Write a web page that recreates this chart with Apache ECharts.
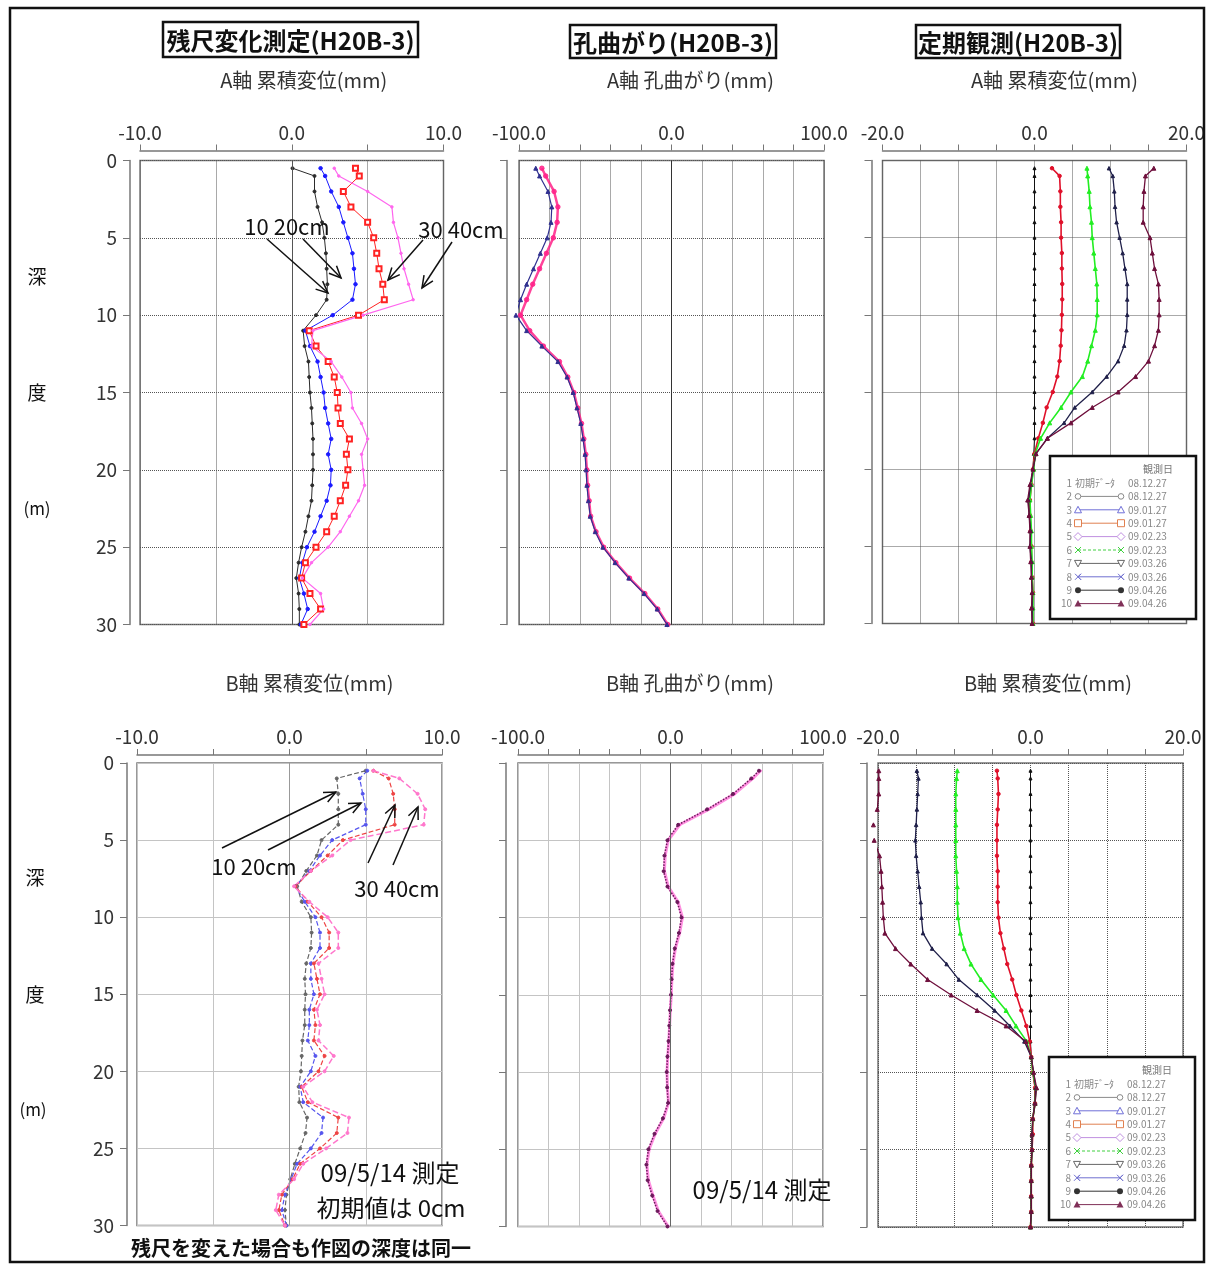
<!DOCTYPE html>
<html><head><meta charset="utf-8">
<script src="https://cdn.jsdelivr.net/npm/echarts@6/dist/echarts.min.js"></script>
<style>html,body{margin:0;padding:0;background:#fff}#c{width:1208px;height:1265px}</style>
</head><body><div id="c"></div>
<script>
// ---------- depth (m) ----------
const depths = [0.5,1,2,3,4,5,6,7,8,9,10,11,12,13,14,15,16,17,18,19,20,21,22,23,24,25,26,27,28,29,30];

// ---------- 残尺変化測定 A軸 (mm) ----------
const zanA10 = [0.05,1.5,1.5,1.7,2.0,2.15,2.25,2.3,2.35,2.3,1.6,0.75,0.85,1.1,1.15,1.2,1.3,1.35,1.4,1.4,1.4,1.35,1.3,1.1,0.9,0.65,0.45,0.3,0.45,0.5,0.5];
const zanA20 = [1.9,2.2,2.6,3.1,3.4,3.7,4.0,4.1,4.2,4.0,2.7,0.9,1.2,1.7,1.9,2.1,2.2,2.4,2.6,2.4,2.6,2.55,2.3,1.9,1.5,1.0,0.7,0.5,0.8,1.05,0.6];
const zanA30 = [4.2,4.45,3.4,3.9,5.0,5.4,5.6,5.75,6.0,6.1,4.4,1.15,1.6,2.4,2.8,3.0,3.05,3.2,3.8,3.6,3.7,3.55,3.2,2.8,2.3,1.6,0.9,0.65,1.2,1.9,0.8];
const zanA40 = [2.8,3.1,5.0,6.6,6.7,7.0,7.2,7.4,7.7,8.0,4.7,1.4,1.3,2.6,3.3,3.9,4.0,4.6,5.0,4.6,4.7,4.8,4.4,3.8,3.2,2.4,1.3,0.7,1.9,2.1,1.2];

// ---------- 残尺変化測定 B軸 (mm) ----------
const zanB10 = [5.0,3.1,3.2,3.2,3.2,2.1,1.8,1.1,0.5,0.8,1.4,1.45,1.4,1.1,1.0,1.05,1.0,1.0,0.85,0.8,0.75,0.6,0.65,1.15,1.05,0.7,0.35,0.05,-0.2,-0.3,-0.2];
const zanB20 = [5.1,4.6,4.8,5.0,5.0,2.8,2.0,1.3,0.4,1.0,1.7,2.0,2.0,1.4,1.4,1.6,1.3,1.3,1.2,1.7,1.4,0.7,0.9,2.2,2.1,1.4,0.5,0.1,-0.3,-0.5,-0.2];
const zanB30 = [5.5,6.5,6.8,6.9,6.9,3.5,2.5,1.4,0.4,1.2,2.1,2.6,2.6,1.6,1.8,2.0,1.6,1.7,1.6,2.3,1.9,0.8,1.2,3.2,3.1,2.0,0.7,0.2,-0.5,-0.7,-0.3];
const zanB40 = [5.5,7.2,8.4,8.9,8.8,4.0,2.8,1.4,0.3,1.3,2.5,3.2,3.2,1.9,2.1,2.3,1.8,2.0,1.9,2.9,2.3,0.9,1.5,3.9,3.8,2.4,0.9,0.3,-0.7,-0.9,-0.3];

// ---------- 孔曲がり (mm) ----------
const bendA1 = [-89,-86.5,-81,-78.5,-79,-81.5,-86,-90.5,-95,-99,-102,-95,-85,-74.5,-68.5,-64.5,-62,-59.5,-58,-56.7,-56,-55.5,-54.5,-53.3,-50,-45,-37,-28,-18,-9.4,-3];
const bendA2 = [-85,-82.5,-77,-74.5,-75,-77.5,-82,-86.5,-91,-95,-99,-93,-84,-73.5,-68,-64,-61.5,-59,-57.5,-56.2,-55.5,-55,-54,-53,-49.5,-44.5,-36.5,-27.5,-17.5,-9,-2.5];
const bendB1 = [58,53,41,24,5,-2,-4,-4.5,-2,4.5,7.2,5.5,2.8,1.3,0.7,0.3,-0.3,-0.8,-1.3,-2.0,-2.5,-2.2,-1.6,-5,-10.5,-14.5,-15.8,-15,-12,-8.5,-2];
const bendB2 = [59,54,42,25,6,-1.5,-3.5,-4,-1.5,5,7.8,6,3.2,1.6,0.9,0.5,-0.1,-0.6,-1.1,-1.8,-2.3,-2.0,-1.3,-4.5,-10,-14,-15.5,-14.5,-11.5,-8,-1.5];

// ---------- 定期観測 A軸 (mm) ----------
const obsA1 = [0,0,0,0,0,0,0,0,0,0,0,0,0,0,0,0,0,0,0,-0.1,-0.2,-0.5,-0.7,-0.6,-0.5,-0.5,-0.4,-0.3,-0.3,-0.3,-0.3];
const obsA2 = [2.3,3.3,3.4,3.4,3.5,3.5,3.6,3.6,3.65,3.65,3.6,3.55,3.45,3.3,3.0,2.4,1.6,1.1,0.5,0.0,-0.2,-0.4,-0.6,-0.6,-0.5,-0.4,-0.4,-0.3,-0.2,-0.3,-0.2];
const obsA3 = [6.9,7.0,7.2,7.3,7.5,7.6,7.8,8.0,8.2,8.25,8.25,8.0,7.5,7.0,6.3,4.8,3.5,2.0,0.8,0.1,-0.1,-0.4,-0.6,-0.5,-0.4,-0.4,-0.3,-0.3,-0.2,-0.2,-0.2];
const obsA4 = [9.8,10.3,10.5,10.6,10.8,11.2,11.6,11.9,12.2,12.2,12.2,12.1,11.8,11.0,9.5,7.6,5.3,3.9,1.7,0.2,-0.2,-0.5,-0.8,-0.7,-0.5,-0.6,-0.4,-0.4,-0.3,-0.3,-0.3];
const obsA5 = [15.7,14.6,14.4,14.3,14.3,15.2,15.5,15.8,16.3,16.4,16.4,16.3,15.8,15.0,13.3,11.0,7.6,4.8,1.7,0.2,-0.2,-0.6,-0.9,-0.7,-0.6,-0.6,-0.5,-0.4,-0.3,-0.4,-0.3];

// ---------- 定期観測 B軸 (mm) ----------
const obsB1 = [0,0,0,0,0,0,0,0,0,0,0,0,0,0,0,0,0,0,0,0.1,0.3,0.6,0.5,0.3,0.2,0.2,0.1,0.1,0.0,0.1,0.0];
const obsB2 = [-4.4,-4.3,-4.2,-4.3,-4.4,-4.4,-4.4,-4.3,-4.3,-4.3,-4.2,-3.95,-3.5,-3.05,-2.4,-1.85,-1.2,-0.55,-0.1,0.1,0.3,0.6,0.6,0.3,0.3,0.2,0.1,0.1,0.1,0.1,0.0];
const obsB3 = [-9.6,-9.7,-9.8,-9.8,-9.8,-9.8,-9.8,-9.7,-9.6,-9.6,-9.5,-9.2,-8.7,-7.8,-6.5,-4.9,-3.2,-1.9,-0.5,0.1,0.3,0.7,0.6,0.3,0.2,0.2,0.1,0.1,0.1,0.1,0.0];
const obsB4 = [-14.9,-14.7,-14.8,-14.9,-15.0,-15.1,-15.0,-14.8,-14.6,-14.4,-14.3,-14.1,-12.9,-11.0,-9.4,-7.0,-4.7,-2.7,-0.8,0.1,0.4,0.7,0.6,0.3,0.2,0.2,0.1,0.1,0.1,0.1,0.0];
const obsB5 = [-19.9,-19.9,-19.9,-20.1,-20.6,-20.5,-19.8,-19.6,-19.5,-19.4,-19.3,-19.1,-17.7,-15.7,-13.5,-10.4,-7.0,-3.2,-0.6,0.1,0.4,0.8,0.6,0.3,0.2,0.2,0.1,0.1,0.1,0.1,0.0];

// ---------- axis texts ----------
const panelTitles = ['残尺変化測定(H20B-3)','孔曲がり(H20B-3)','定期観測(H20B-3)'];
const axisNames = ['A軸 累積変位(mm)','A軸 孔曲がり(mm)','A軸 累積変位(mm)','B軸 累積変位(mm)','B軸 孔曲がり(mm)','B軸 累積変位(mm)'];
const xRanges = [[-10,10,5],[-100,100,20],[-20,20,5],[-10,10,5],[-100,100,20],[-20,20,5]];
const depthTicks = [0,5,10,15,20,25,30];
const legendNos = ['1','2','3','4','5','6','7','8','9','10'];
const legendMarks = ['','o','tri','sq','dia','x','vtri','x','dot','ftri'];
const legendColors = ['#888','#8a8a8a','#7070d8','#e08050','#c090e0','#40d040','#666','#7070d0','#333','#803058'];
const legendDates = ['08.12.27','08.12.27','09.01.27','09.01.27','09.02.23','09.02.23','09.03.26','09.03.26','09.04.26','09.04.26'];

const FF = "'Noto Sans CJK JP','Noto Sans',sans-serif";

const grids = [
  {left:140, top:160.5, width:303.5, height:464},
  {left:519, top:160.5, width:305, height:464},
  {left:882.5, top:160.5, width:304, height:463},
  {left:137, top:763, width:305, height:462.5},
  {left:518, top:763, width:305, height:463.5},
  {left:878, top:763, width:305, height:464}
].map(g => Object.assign(g, {show:true, borderColor:'#777', borderWidth:1.5}));

const namePad = [24,38,40,40,39,35];
const splitStyles = [
  {type:'dotted', color:'#555'}, {type:'dotted', color:'#555'}, {type:'dotted', color:'#555'},
  {type:'solid', color:'#c4c4c4'}, {type:'solid', color:'#c4c4c4'}, {type:'dotted', color:'#555'}
];
const yOffsets = [10,12,11,10,12,11];

const xAxes = xRanges.map((r,i) => ({
  gridIndex:i, type:'value', position:'top', min:r[0], max:r[1], interval:r[2],
  offset: i<3 ? 10 : 8,
  name: axisNames[i], nameLocation:'middle', nameGap: i<3 ? 60 : 62,
  nameTextStyle:{fontSize:20, color:'#333', fontFamily:FF, padding:[0,0,0,namePad[i]]},
  axisLine:{show:true, onZero:false, lineStyle:{color:'#777', width:1.5}},
  axisTick:{show:true, inside:false, length:6, lineStyle:{color:'#777'}},
  axisLabel:{show:true, margin: i<3 ? 8 : 9, fontSize:19, color:'#333', fontFamily:FF,
    showMinLabel:true, showMaxLabel:true,
    formatter: v => (v===r[0]||v===0||v===r[1]) ? v.toFixed(1) : ''},
  splitLine:{show:true, lineStyle:splitStyles[i]}
}));

const yAxes = grids.map((g,i) => ({
  gridIndex:i, type:'value', inverse:true, min:0, max:30, interval:5,
  position:'left', offset:yOffsets[i],
  axisLine:{show:true, onZero:false, lineStyle:{color:'#777', width:1.5}},
  axisTick:{show:true, inside:false, length:7, lineStyle:{color:'#777'}},
  axisLabel:{show: (i===0||i===3), margin:13, fontSize:19, color:'#333', fontFamily:FF,
    formatter: v => depthTicks.includes(v) ? String(v) : ''},
  splitLine:{show:true, lineStyle:splitStyles[i]}
}));

function mk(name, gi, vals, color, o) {
  o = o || {};
  return {
    name, type:'line', xAxisIndex:gi, yAxisIndex:gi,
    data: depths.map((d,k) => [vals[k], d]),
    symbol: o.symbol || 'circle', symbolSize: o.size || 3, showSymbol:true,
    clip:false, silent:true, z:o.z || 3,
    lineStyle:{color, width:o.width || 1, type:o.type || 'solid', opacity:o.op==null?1:o.op},
    itemStyle:{color:o.fill || color, borderColor:color, borderWidth:1, opacity:o.op==null?1:o.op},
    markLine: o.zero ? {silent:true, symbol:'none', animation:false, label:{show:false},
      lineStyle:{color:o.zero, type:'solid', width:1}, data:[{xAxis:0}]} : undefined
  };
}

const series = [
  mk('10cm',0,zanA10,'#2b2b2b',{zero:'#555'}),
  mk('20cm',0,zanA20,'#1a1aff',{size:3.5}),
  mk('30cm',0,zanA30,'#ff2222',{symbol:'emptyRect',size:5}),
  mk('40cm',0,zanA40,'#ff66ee',{size:2.5,width:1.2}),

  mk('孔曲がりA-2',1,bendA2,'#ff2288',{size:4.5,width:2.5,op:0.85,zero:'#333'}),
  mk('孔曲がりA-1',1,bendA1,'#303090',{symbol:'triangle',size:4,width:1.2}),

  mk('1',2,obsA1,'#111',{symbol:'triangle',size:3}),
  mk('2',2,obsA2,'#e0102a',{size:3.5,width:1.6}),
  mk('3',2,obsA3,'#22ee22',{symbol:'triangle',size:4,width:1.6}),
  mk('4',2,obsA4,'#20204a',{symbol:'triangle',size:3.5,width:1.3}),
  mk('5',2,obsA5,'#6e0f3c',{symbol:'triangle',size:4,width:1.3}),

  mk('10cm',3,zanB10,'#666',{type:'dashed',width:1.2,zero:'#999'}),
  mk('20cm',3,zanB20,'#5555ee',{type:'dashed',width:1.2,size:3}),
  mk('30cm',3,zanB30,'#ee4444',{type:'dashed',width:1.2,size:3}),
  mk('40cm',3,zanB40,'#ff77cc',{type:'dashed',width:1.5,size:3}),

  mk('孔曲がりB-2',4,bendB2,'#ff44cc',{width:3,op:0.6,size:2,zero:'#666'}),
  mk('孔曲がりB-1',4,bendB1,'#6a1a5a',{type:'dotted',width:1.5,size:3}),

  mk('1',5,obsB1,'#111',{symbol:'triangle',size:3}),
  mk('2',5,obsB2,'#e0102a',{size:3.5,width:1.6}),
  mk('3',5,obsB3,'#22ee22',{symbol:'triangle',size:4,width:1.6}),
  mk('4',5,obsB4,'#20204a',{symbol:'triangle',size:3.5,width:1.3}),
  mk('5',5,obsB5,'#6e0f3c',{symbol:'triangle',size:4,width:1.3})
];

// ---------- graphics ----------
function txt(text,x,y,size,o){
  o = o || {};
  return {type:'text', x, y, z:50, silent:true, style:{text, fontSize:size, fontFamily:FF,
    fontWeight:o.weight||'normal', fill:o.color||'#111',
    textAlign:o.align||'center', align:o.align||'center',
    textVerticalAlign:'middle', verticalAlign:'middle'}};
}
function arrow(x1,y1,x2,y2){
  const a = Math.atan2(y2-y1,x2-x1), L = 13, w = 0.42;
  const p1 = [x2-L*Math.cos(a-w), y2-L*Math.sin(a-w)];
  const p2 = [x2-L*Math.cos(a+w), y2-L*Math.sin(a+w)];
  return [
    {type:'line', z:50, silent:true, shape:{x1,y1,x2,y2}, style:{stroke:'#111', lineWidth:1.5}},
    {type:'polyline', z:50, silent:true, shape:{points:[p1,[x2,y2],p2]}, style:{stroke:'#111', lineWidth:1.5, fill:null}}
  ];
}
function sym(kind,x,y,c){
  const st = {stroke:c, fill:'#fff', lineWidth:1};
  const base = {z:61, silent:true};
  switch(kind){
    case 'o': return Object.assign({type:'circle', shape:{cx:x,cy:y,r:2.8}, style:st}, base);
    case 'tri': return Object.assign({type:'polygon', shape:{points:[[x,y-3.5],[x+3.5,y+3],[x-3.5,y+3]]}, style:st}, base);
    case 'sq': return Object.assign({type:'rect', shape:{x:x-3.5,y:y-3.5,width:7,height:7}, style:st}, base);
    case 'dia': return Object.assign({type:'polygon', shape:{points:[[x,y-4],[x+4,y],[x,y+4],[x-4,y]]}, style:st}, base);
    case 'vtri': return Object.assign({type:'polygon', shape:{points:[[x-3.5,y-3],[x+3.5,y-3],[x,y+3.5]]}, style:st}, base);
    case 'dot': return Object.assign({type:'circle', shape:{cx:x,cy:y,r:3}, style:{fill:c}}, base);
    case 'ftri': return Object.assign({type:'polygon', shape:{points:[[x,y-3.5],[x+3.5,y+3],[x-3.5,y+3]]}, style:{fill:c}}, base);
    case 'x': return Object.assign({type:'polyline', shape:{points:[[x-3,y-3],[x+3,y+3],[x,y],[x+3,y-3],[x-3,y+3]]}, style:{stroke:c, lineWidth:1, fill:null}}, base);
  }
  return null;
}
function legendBox(bx,by){
  const els = [{type:'rect', z:60, silent:true, shape:{x:bx,y:by,width:146,height:163},
    style:{fill:'#fff', stroke:'#111', lineWidth:2.5}}];
  els.push(Object.assign(txt('観測日', bx+108, by+13, 10, {color:'#777'}), {z:62}));
  legendNos.forEach((n,i) => {
    const y = by + 27 + i*13.4;
    els.push(Object.assign(txt(n, bx+22, y, 10, {color:'#888', align:'right'}), {z:62}));
    if (i === 0) {
      els.push(Object.assign(txt('初期ﾃﾞｰﾀ', bx+25, y, 10, {color:'#888', align:'left'}), {z:62}));
    } else {
      els.push({type:'line', z:61, silent:true, shape:{x1:bx+28,y1:y,x2:bx+71,y2:y},
        style:{stroke:legendColors[i], lineWidth:1, lineDash: i===5 ? [3,2] : null}});
      els.push(sym(legendMarks[i], bx+28, y, legendColors[i]));
      els.push(sym(legendMarks[i], bx+71, y, legendColors[i]));
    }
    els.push(Object.assign(txt(legendDates[i], bx+78, y, 10, {color:'#888', align:'left'}), {z:62}));
  });
  return els;
}
function titleBox(text,x,y,w,h){
  return [
    {type:'rect', z:50, silent:true, shape:{x,y,width:w,height:h}, style:{fill:'#fff', stroke:'#111', lineWidth:2.5}},
    Object.assign(txt(text, x+w/2, y+h/2+1, 24, {weight:'bold'}), {z:51})
  ];
}

const graphic = [].concat(
  [{type:'rect', z:40, silent:true, shape:{x:10,y:8,width:1194,height:1254}, style:{fill:null, stroke:'#111', lineWidth:2.5}}],
  titleBox(panelTitles[0],163,22,255,35),
  titleBox(panelTitles[1],570,25,206,33),
  titleBox(panelTitles[2],916,25,204,33),
  [txt('深',37,277,19), txt('度',37,393,19), txt('(m)',37,509,17),
   txt('深',35,878,19), txt('度',35,995,19), txt('(m)',33,1110,17)],
  [txt('10 20cm',287,227,22), txt('30 40cm',461,230,22)],
  arrow(267,239,328,293), arrow(303,239,341,278), arrow(423,240,388,280), arrow(452,242,422,288),
  [txt('10 20cm',254,867,22), txt('30 40cm',397,889,22)],
  arrow(222,848,336,792), arrow(268,850,361,803), arrow(368,863,395,805), arrow(393,865,418,807),
  [txt('09/5/14 測定',390,1173,24), txt('初期値は 0cm',391,1208,24),
   txt('残尺を変えた場合も作図の深度は同一',301,1248,20,{weight:'bold'}),
   txt('09/5/14 測定',762,1190,24)],
  legendBox(1050,456),
  legendBox(1049,1057)
);

const chart = echarts.init(document.getElementById('c'), null, {renderer:'canvas'});
chart.setOption({
  animation:false,
  backgroundColor:'#fff',
  textStyle:{fontFamily:FF},
  grid:grids, xAxis:xAxes, yAxis:yAxes, series, graphic
});
</script>
</body></html>
